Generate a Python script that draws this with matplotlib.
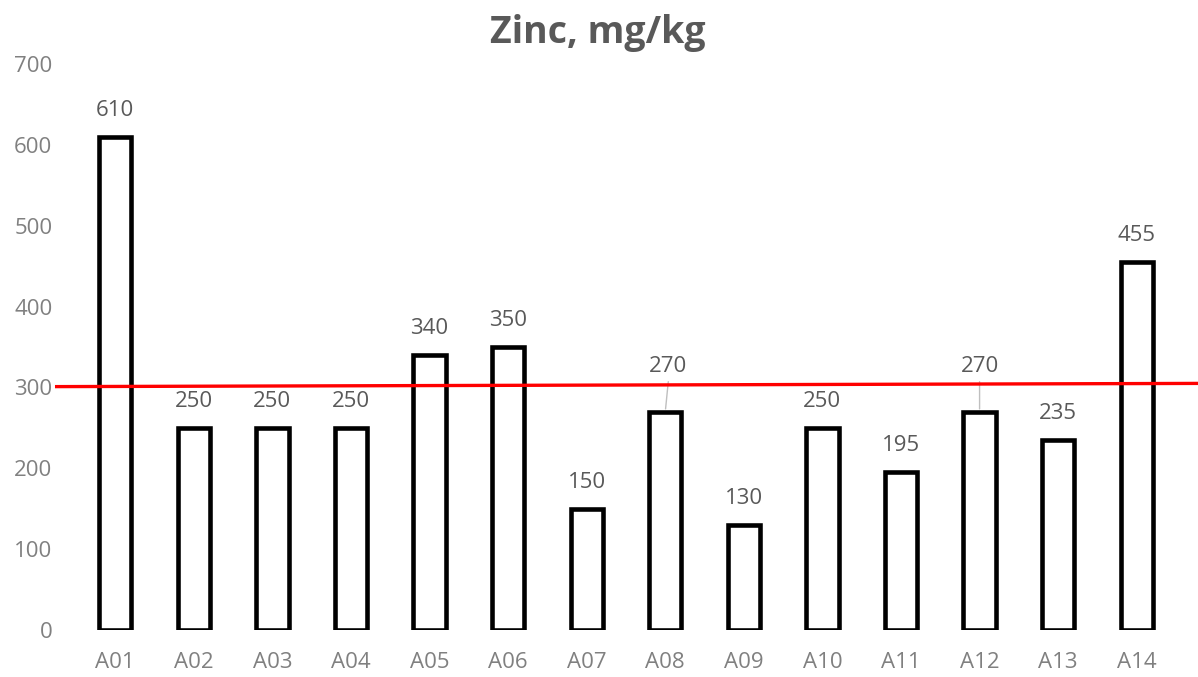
import matplotlib
matplotlib.use("Agg")
import matplotlib.pyplot as plt
import numpy as np

categories = ["A01", "A02", "A03", "A04", "A05", "A06", "A07",
              "A08", "A09", "A10", "A11", "A12", "A13", "A14"]
values = [610, 250, 250, 250, 340, 350, 150, 270, 130, 250, 195, 270, 235, 455]
raised_labels = ["A08", "A12"]          # labels moved above the red line, with leader lines
threshold_start = 301
threshold_end = 305
title = "Zinc, mg/kg"
y_ticks = [0, 100, 200, 300, 400, 500, 600, 700]

plt.rcParams['font.family'] = ['Open Sans', 'DejaVu Sans']

W, H = 1198, 677
fig = plt.figure(figsize=(W / 100, H / 100), dpi=100)
ax = fig.add_axes([76 / W, 1 - 630 / H, 1100 / W, 566 / H])

x = np.arange(len(categories))
ax.bar(x, values, width=0.41, facecolor='white', edgecolor='black',
       linewidth=3.3, zorder=2)

ax.set_xlim(-0.5, len(categories) - 0.5)
ax.set_ylim(0, 700)
for s in ax.spines.values():
    s.set_visible(False)
ax.set_xticks(x)
ax.set_xticklabels(categories)
ax.set_yticks(y_ticks)
ax.tick_params(axis='both', length=0, labelsize=16, labelcolor='#808080')
ax.tick_params(axis='y', pad=17)
ax.tick_params(axis='x', pad=16)

# red reference line (extends beyond plot area, like the drawn shape)
x0 = (55 - 115.3) / 78.57
x1 = (1205 - 115.3) / 78.57
ax.plot([x0, x1], [threshold_start, threshold_end], color='#ff0000',
        linewidth=2.4, clip_on=False, zorder=3, solid_capstyle='butt')

pt = 0.72  # points per pixel at 100 dpi
for xi, (cat, v) in enumerate(zip(categories, values)):
    if cat in raised_labels:
        dx = 3 if cat == "A08" else 0
        ax.annotate(str(v), (xi, v), xytext=(dx * pt, 40 * pt),
                    textcoords='offset points', ha='center', va='baseline',
                    fontsize=16, color='#595959', zorder=4)
        ax.annotate('', xy=(xi, v), xytext=(dx * pt, 30 * pt),
                    textcoords='offset points',
                    arrowprops=dict(arrowstyle='-', color='#bfbfbf', lw=1.0,
                                    shrinkA=0, shrinkB=2),
                    zorder=1)
    else:
        ax.annotate(str(v), (xi, v), xytext=(0, 21 * pt),
                    textcoords='offset points', ha='center', va='baseline',
                    fontsize=16, color='#595959', zorder=4)

fig.text(598 / W, 1 - 43.5 / H, title, ha='center', va='baseline',
         fontsize=27, fontweight='bold', color='#595959')

fig.savefig("out.png", dpi=100)
